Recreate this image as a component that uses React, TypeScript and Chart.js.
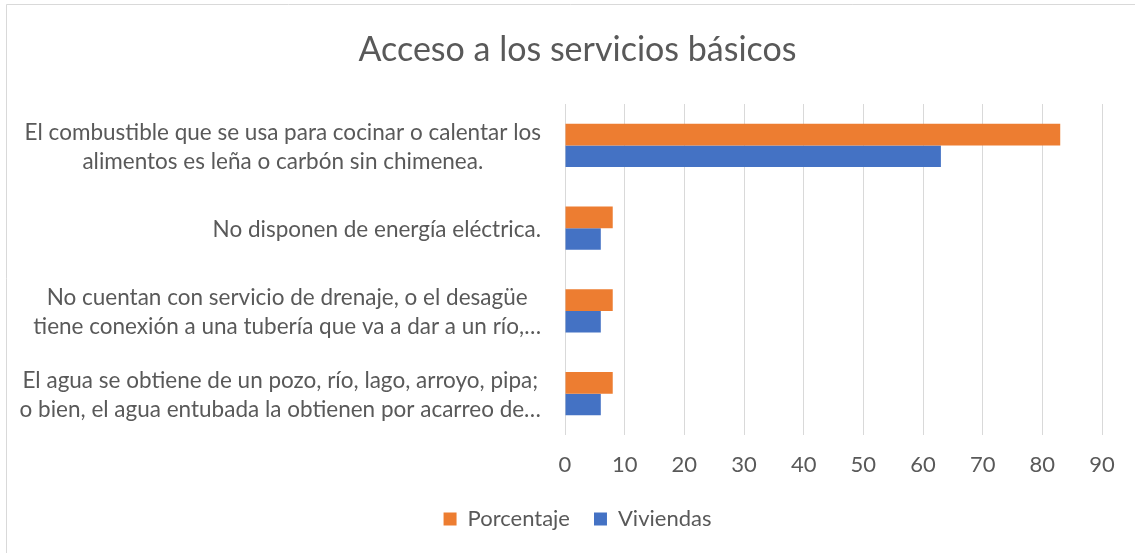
import React, { useEffect, useRef } from 'react';
import { Chart, registerables } from 'chart.js';

Chart.register(...registerables);

const categories: string[][] = [
  ['El combustible que se usa para cocinar o calentar los', 'alimentos es leña o carbón sin chimenea.'],
  ['No disponen de energía eléctrica.'],
  ['No cuentan con servicio de drenaje, o el desagüe', 'tiene conexión a una tubería que va a dar a un río,…'],
  ['El agua se obtiene de un pozo, río, lago, arroyo, pipa;', 'o bien, el agua entubada la obtienen por acarreo de…'],
];
const porcentaje: number[] = [83, 8, 8, 8];
const viviendas: number[] = [63, 6, 6, 6];
const seriesNames: string[] = ['Porcentaje', 'Viviendas'];
const xMin = 0;
const xMax = 90;
const xStep = 10;

const FONT = 'Lato, "Open Sans", sans-serif';
const TEXT = '#595959';
const LABEL_SIZE = 22.5;
const LINE_H = 29;

const yLabelPlugin = {
  id: 'yLabels',
  afterDraw(chart: any) {
    const ctx = chart.ctx;
    const y = chart.scales.y;
    ctx.save();
    ctx.font = `${LABEL_SIZE}px ${FONT}`;
    ctx.fillStyle = TEXT;
    ctx.textAlign = 'center';
    ctx.textBaseline = 'middle';
    categories.forEach((lines, i) => {
      const cy = y.getPixelForValue(i) + 1.5;
      const w = Math.max(...lines.map((l) => ctx.measureText(l).width));
      const right = chart.chartArea.left - 24;
      const cx = right - w / 2;
      lines.forEach((l, j) => {
        ctx.fillText(l, cx, cy + (j - (lines.length - 1) / 2) * LINE_H);
      });
    });
    ctx.restore();
  },
};

const framePlugin = {
  id: 'frame',
  beforeDraw(chart: any) {
    const ctx = chart.ctx;
    ctx.save();
    ctx.fillStyle = '#ffffff';
    ctx.fillRect(0, 0, chart.width, chart.height);
    ctx.strokeStyle = '#d9d9d9';
    ctx.lineWidth = 1;
    ctx.beginPath();
    ctx.moveTo(6.5, chart.height);
    ctx.lineTo(6.5, 4.5);
    ctx.lineTo(chart.width, 4.5);
    ctx.stroke();
    ctx.restore();
  },
};

export default function App() {
  const ref = useRef<HTMLCanvasElement | null>(null);

  useEffect(() => {
    if (!ref.current) return;
    const chart = new Chart(ref.current, {
      type: 'bar',
      data: {
        labels: categories.map((c) => c.join(' ')),
        datasets: [
          {
            label: seriesNames[0],
            data: porcentaje,
            backgroundColor: '#ED7D31',
            categoryPercentage: 0.52,
            barPercentage: 1,
          },
          {
            label: seriesNames[1],
            data: viviendas,
            backgroundColor: '#4472C4',
            categoryPercentage: 0.52,
            barPercentage: 1,
          },
        ],
      },
      options: {
        indexAxis: 'y',
        animation: false,
        responsive: false,
        maintainAspectRatio: false,
        layout: { padding: { left: 20, right: 0, top: 0, bottom: 13 } },
        scales: {
          x: {
            min: xMin,
            max: xMax,
            ticks: {
              stepSize: xStep,
              color: TEXT,
              font: { family: FONT, size: 22 },
              padding: 17,
            },
            grid: { color: '#d9d9d9', drawTicks: false, lineWidth: 1 },
            border: { display: false },
            afterFit: (scale: any) => {
              scale.height = 49;
            },
          },
          y: {
            display: true,
            ticks: { display: false },
            grid: { display: false, drawTicks: false },
            border: { display: false },
            afterFit: (scale: any) => {
              scale.width = 545;
            },
          },
          y2: {
            type: 'linear',
            position: 'right',
            display: true,
            ticks: { display: false },
            grid: { display: false, drawTicks: false },
            border: { display: false },
            afterFit: (scale: any) => {
              scale.width = 33;
            },
          },
        },
        plugins: {
          title: {
            display: true,
            text: 'Acceso a los servicios básicos',
            color: TEXT,
            font: { family: FONT, size: 34, weight: 'normal', lineHeight: 1.2 },
            padding: { top: 29.6, bottom: 33.6 },
          },
          legend: {
            position: 'bottom',
            labels: {
              color: TEXT,
              font: { family: FONT, size: 22 },
              boxWidth: 13,
              boxHeight: 13,
              padding: 24,
            },
          },
          tooltip: { enabled: false },
        },
      },
      plugins: [framePlugin, yLabelPlugin],
    });
    return () => chart.destroy();
  }, []);

  return (
    <div style={{ position: 'fixed', left: 0, top: 0, width: 1135, height: 553 }}>
      <canvas ref={ref} width={1135} height={553} style={{ width: 1135, height: 553 }} />
    </div>
  );
}
